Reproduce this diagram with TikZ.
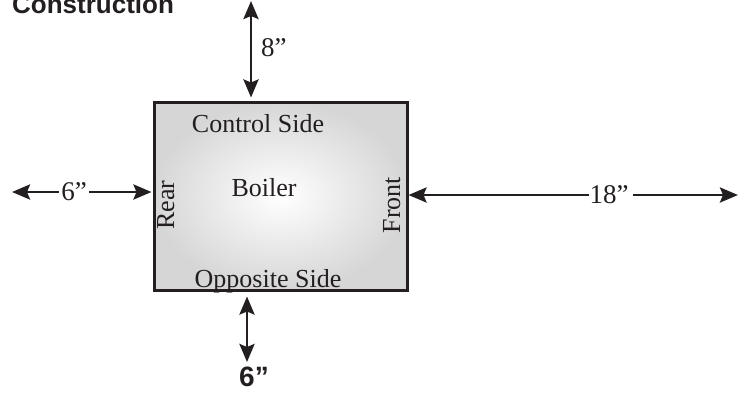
\documentclass[tikz,border=0pt]{standalone}
\usepackage{fontspec}
\setmainfont{Liberation Serif}
\setsansfont{Liberation Sans}
\usetikzlibrary{arrows.meta}
\definecolor{ink}{HTML}{231F20}
\begin{document}
\begin{tikzpicture}[x=1pt,y=-1pt,
  dim/.style={line width=2.8pt, draw=ink, -{Stealth[length=18pt,width=15pt,inset=3pt]}},
  dimboth/.style={line width=2.8pt, draw=ink, {Stealth[length=18pt,width=15pt,inset=3pt]}-{Stealth[length=18pt,width=15pt,inset=3pt]}},
  lbl/.style={font=\fontsize{26}{26}\selectfont, text=ink, inner sep=0pt},
  dimlbl/.style={font=\fontsize{27}{27}\selectfont, text=ink, inner ysep=0pt, inner xsep=2pt},
  boldlbl/.style={font=\sffamily\bfseries\fontsize{28}{28}\selectfont, text=ink, inner sep=0pt},
  boilerbox/.style={draw=ink, line width=3pt, minimum width=253pt, minimum height=188pt, inner sep=0pt,
    shading=radial, inner color=white, outer color=gray!32}]
\useasboundingbox (0,0) rectangle (745,392);
\clip (0,0) rectangle (745,392);
% title
\node (title) [boldlbl, font=\sffamily\bfseries\fontsize{26}{26}\selectfont, anchor=base west] at (12,13) {Construction};
% boiler box
\node (box) [boilerbox] at (280.5,196) {};
\node (ctrl) [lbl, anchor=base] at (258,132) {Control Side};
\node (boiler) [lbl, anchor=base] at (264,196) {Boiler};
\node (opp) [lbl, anchor=base] at (268,287) {Opposite Side};
\node (rear) [lbl, rotate=90, anchor=base] at (174,205) {Rear};
\node (front) [lbl, rotate=90, anchor=base] at (400,205) {Front};
% top dimension
\coordinate (topend) at (251,1);
\draw[dimboth, shorten >=3pt] (topend) -- (box.north -| topend);
\node (l8) [dimlbl, inner sep=0pt, anchor=west] at (261,48) {8”};
% left dimension
\node (l6) [dimlbl] at (74,192) {6”};
\coordinate (leftend) at (12,192);
\draw[dim] (l6) -- (leftend);
\draw[dim, shorten >=1pt] (l6) -- (box.west |- l6);
% right dimension
\node (l18) [dimlbl, inner xsep=1pt] at (609,195) {18”};
\coordinate (rightend) at (738,195);
\draw[dim, shorten <=-1pt] (l18.west) -- (box.east |- l18);
\draw[dim, shorten <=3pt] (l18.east) -- (rightend);
% bottom dimension
\coordinate (botend) at (247,362);
\draw[dimboth, shorten <=5pt] (box.south -| botend) -- (botend);
\node (b6) [boldlbl, anchor=base] at (254,386) {6”};
\end{tikzpicture}
\end{document}
